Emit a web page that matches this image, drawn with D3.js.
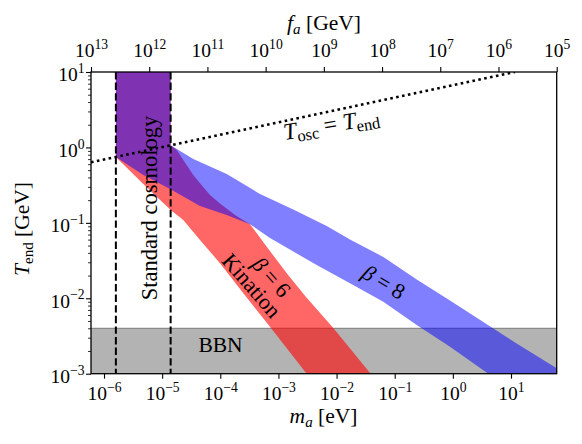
<!DOCTYPE html>
<html>
<head>
<meta charset="utf-8">
<style>
    body { margin: 0; background: #fff; }
    text { font-family: "Liberation Serif", "DejaVu Serif", serif; fill: #000; }
</style>
</head>
<body>
<div id="chart"></div>
<script src="https://cdn.jsdelivr.net/npm/d3@7"></script>
<script>
    var width = 582, height = 444;
    var plot = {left: 91, right: 556.7, top: 72, bottom: 373.7};

    // axis ranges
    var massRange = [5.975e-7, 61.1];      // m_a [eV]
    var faRange = [1e13, 1e5];            // f_a [GeV]
    var tempRange = [1e-3, 1e1];          // T_end [GeV]

    var massTicks = [1e-6, 1e-5, 1e-4, 1e-3, 1e-2, 1e-1, 1e0, 1e1];
    var faTicks = [1e13, 1e12, 1e11, 1e10, 1e9, 1e8, 1e7, 1e6, 1e5];
    var tempTicks = [1e-3, 1e-2, 1e-1, 1e0, 1e1];

    // standard cosmology window (dashed lines)
    var stdMass = [1.6e-6, 1.4e-5];

    // T_osc = T_end
    var oscMass = [5.975e-7, 11.7];
    var oscTemp = [0.634, 10];

    // BBN bound on T_end
    var bbnTemp = 4.0e-3;

    // beta = 6 (kination) band
    var kinLowMass = [1.6e-6, 4.69e-6, 1.4e-5, 2.31e-5, 4.48e-5, 9.89e-5, 2.49e-4, 7.16e-4, 3.06e-3];
    var kinLowTemp = [0.745, 0.330, 0.148, 0.109, 0.0593, 0.0291, 0.01164, 4.20e-3, 1e-3];
    var kinHighMass = [1.4e-5, 1.78e-5, 3.43e-5, 4.48e-5, 6.65e-5, 9.89e-5, 1.79e-4, 3.24e-4, 6.29e-4, 1.39e-3, 2.98e-3, 8.79e-3, 0.0386];
    var kinHighTemp = [1.067, 0.925, 0.431, 0.3345, 0.234, 0.1805, 0.127, 0.096, 0.0483, 0.0214, 0.0104, 4.03e-3, 1e-3];

    // beta = 8 band
    var b8LowMass = [1.6e-6, 4.74e-6, 1.37e-5, 4.48e-5, 1.29e-4, 3.24e-4, 7.16e-4, 4.55e-3, 0.0170, 0.0637, 0.239, 0.893, 4.07, 61.1];
    var b8LowTemp = [0.745, 0.431, 0.281, 0.167, 0.127, 0.096, 0.0630, 0.0276, 0.0158, 9.01e-3, 4.42e-3, 2.28e-3, 1e-3, 2.4e-4];
    var b8HighMass = [1.4e-5, 3.43e-5, 1.29e-4, 4.82e-4, 1.80e-3, 6.76e-3, 0.0170, 0.0637, 0.239, 0.893, 3.34, 12.5, 61.1];
    var b8HighTemp = [1.067, 0.702, 0.444, 0.2412, 0.1503, 0.0908, 0.0601, 0.0353, 0.01774, 9.34e-3, 4.85e-3, 2.51e-3, 1.18e-3];

    var svg = d3.select('#chart')
        .append('svg')
        .attr('width', width)
        .attr('height', height);

    var x = d3.scaleLog().domain(massRange).range([plot.left, plot.right]);
    var fx = d3.scaleLog().domain(faRange).range([plot.left, plot.right]);
    var y = d3.scaleLog().domain(tempRange).range([plot.bottom, plot.top]);

    svg.append('clipPath').attr('id', 'clip')
        .append('rect')
        .attr('x', plot.left).attr('y', plot.top)
        .attr('width', plot.right - plot.left)
        .attr('height', plot.bottom - plot.top);

    var g = svg.append('g').attr('clip-path', 'url(#clip)');

    // BBN region
    g.append('rect')
        .attr('x', plot.left)
        .attr('y', y(bbnTemp))
        .attr('width', plot.right - plot.left)
        .attr('height', y(tempRange[0]) - y(bbnTemp))
        .attr('fill', '#b3b3b3');
    g.append('line')
        .attr('x1', plot.left).attr('x2', plot.right)
        .attr('y1', y(bbnTemp)).attr('y2', y(bbnTemp))
        .attr('stroke', '#8a8a8a').attr('stroke-width', 1.2);

    function band(lowM, lowT, highM, highT) {
        var pts = [[stdMass[0], tempRange[1]]];
        for (var i = 0; i < lowM.length; i++) pts.push([lowM[i], lowT[i]]);
        for (var j = highM.length - 1; j >= 0; j--) pts.push([highM[j], highT[j]]);
        pts.push([stdMass[1], tempRange[1]]);
        return pts;
    }

    var line = d3.line()
        .x(function(d){ return x(d[0]); })
        .y(function(d){ return y(d[1]); });

    g.append('path')
        .attr('d', line(band(kinLowMass, kinLowTemp, kinHighMass, kinHighTemp)) + 'Z')
        .attr('fill', '#ff0000')
        .attr('fill-opacity', 0.6);

    g.append('path')
        .attr('d', line(band(b8LowMass, b8LowTemp, b8HighMass, b8HighTemp)) + 'Z')
        .attr('fill', '#0000ff')
        .attr('fill-opacity', 0.5);

    // standard cosmology window
    g.selectAll('.std')
        .data(stdMass)
        .enter().append('line')
        .attr('x1', function(d){ return x(d); })
        .attr('x2', function(d){ return x(d); })
        .attr('y1', plot.top).attr('y2', plot.bottom)
        .attr('stroke', '#000')
        .attr('stroke-width', 2)
        .attr('stroke-dasharray', '7.4,3.2');

    // T_osc = T_end
    g.append('path')
        .attr('d', line(oscMass.map(function(m, i){ return [m, oscTemp[i]]; })))
        .attr('fill', 'none')
        .attr('stroke', '#000')
        .attr('stroke-width', 2.6)
        .attr('stroke-dasharray', '2.6,3.4');

    // axes
    function expLabels(sel, size) {
        sel.selectAll('.tick text').each(function(d){
            var t = d3.select(this);
            var e = Math.round(Math.log10(d));
            t.text(null);
            t.append('tspan').text('10');
            t.append('tspan')
                .attr('dy', -0.42 * size)
                .attr('font-size', size * 0.7)
                .text(String(e).replace('-', '\u2212'));
        });
    }

    var fs = 19.5;

    var xAxis = svg.append('g')
        .attr('transform', 'translate(0,' + plot.bottom + ')')
        .call(d3.axisBottom(x).tickValues(massTicks).tickSize(5));
    xAxis.selectAll('.tick text').attr('y', 26.3).attr('dy', 0);
    expLabels(xAxis, fs);

    var topAxis = svg.append('g')
        .attr('transform', 'translate(0,' + plot.top + ')')
        .call(d3.axisTop(fx).tickValues(faTicks).tickSize(5));
    topAxis.selectAll('.tick text').attr('y', -15).attr('dy', 0);
    expLabels(topAxis, fs);

    var minors = [];
    for (var p = -3; p < 1; p++) {
        for (var k = 2; k < 10; k++) minors.push(k * Math.pow(10, p));
    }
    svg.append('g')
        .attr('transform', 'translate(' + plot.left + ',0)')
        .call(d3.axisLeft(y).tickValues(minors).tickSize(3).tickFormat(''))
        .selectAll('.tick line').attr('stroke-width', 0.8);

    var yAxis = svg.append('g')
        .attr('transform', 'translate(' + plot.left + ',0)')
        .call(d3.axisLeft(y).tickValues(tempTicks).tickSize(5).tickPadding(1.5));
    yAxis.selectAll('.tick text').attr('dy', 8.8);
    expLabels(yAxis, fs);

    svg.selectAll('.domain').remove();
    svg.selectAll('.tick line').attr('stroke', '#000');
    svg.selectAll('.tick text')
        .attr('font-size', fs)
        .attr('font-family', '"Liberation Serif", serif');
    xAxis.selectAll('.tick line').attr('stroke-width', 1.1);
    topAxis.selectAll('.tick line').attr('stroke-width', 1.1);
    yAxis.selectAll('.tick line').attr('stroke-width', 1.1);

    svg.append('rect')
        .attr('x', plot.left).attr('y', plot.top)
        .attr('width', plot.right - plot.left)
        .attr('height', plot.bottom - plot.top)
        .attr('fill', 'none')
        .attr('stroke', '#000')
        .attr('stroke-width', 1.3);

    // axis titles
    var ml = svg.append('text')
        .attr('x', 323.5).attr('y', 423)
        .attr('text-anchor', 'middle')
        .attr('font-size', 21.5);
    ml.append('tspan').attr('font-style', 'italic').text('m');
    ml.append('tspan').attr('font-style', 'italic').attr('font-size', 15).attr('dy', 4).text('a');
    ml.append('tspan').attr('dy', -4).text(' [eV]');

    var fl = svg.append('text')
        .attr('x', 324).attr('y', 30)
        .attr('text-anchor', 'middle')
        .attr('font-size', 21.5);
    fl.append('tspan').attr('font-style', 'italic').text('f');
    fl.append('tspan').attr('font-style', 'italic').attr('font-size', 15).attr('dy', 4).text('a');
    fl.append('tspan').attr('dy', -4).text(' [GeV]');

    var tl = svg.append('text')
        .attr('transform', 'translate(28.5,229) rotate(-90)')
        .attr('text-anchor', 'middle')
        .attr('font-size', 21.5);
    tl.append('tspan').attr('font-style', 'italic').text('T');
    tl.append('tspan').attr('font-size', 15).attr('dy', 4).text('end');
    tl.append('tspan').attr('dy', -4).text(' [GeV]');

    // annotations
    svg.append('text')
        .attr('transform', 'translate(156.5,208) rotate(-90)')
        .attr('text-anchor', 'middle')
        .attr('font-size', 22.5)
        .text('Standard cosmology');

    svg.append('text')
        .attr('x', 220.5).attr('y', 352)
        .attr('text-anchor', 'middle')
        .attr('font-size', 21.5)
        .text('BBN');

    svg.append('text')
        .attr('transform', 'translate(246,290.5) rotate(49)')
        .attr('text-anchor', 'middle')
        .attr('font-size', 22)
        .text('Kination');

    var b6 = svg.append('text')
        .attr('transform', 'translate(266,282) rotate(48)')
        .attr('text-anchor', 'middle')
        .attr('font-size', 22);
    b6.append('tspan').attr('font-style', 'italic').text('\u03b2');
    b6.append('tspan').text(' = 6');

    var b8 = svg.append('text')
        .attr('transform', 'translate(380,288.5) rotate(31)')
        .attr('text-anchor', 'middle')
        .attr('font-size', 22);
    b8.append('tspan').attr('font-style', 'italic').text('\u03b2');
    b8.append('tspan').text(' = 8');

    var ot = svg.append('text')
        .attr('transform', 'translate(332.5,132) rotate(-9.5)')
        .attr('text-anchor', 'middle')
        .attr('font-size', 23.5);
    ot.append('tspan').attr('font-style', 'italic').text('T');
    ot.append('tspan').attr('font-size', 16.5).attr('dy', 4).text('osc');
    ot.append('tspan').attr('dy', -4).text(' = ');
    ot.append('tspan').attr('font-style', 'italic').text('T');
    ot.append('tspan').attr('font-size', 16.5).attr('dy', 4).text('end');
</script>
</body>
</html>
